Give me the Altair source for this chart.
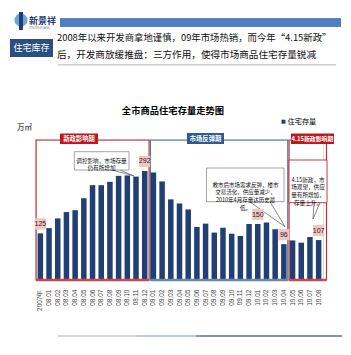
import altair as alt
import pandas as pd

# ---------------- data ----------------
cats = ["2007年",
        "08.01", "08.02", "08.03", "08.04", "08.05", "08.06",
        "08.07", "08.08", "08.09", "08.10", "08.11", "08.12",
        "09.01", "09.02", "09.03", "09.04", "09.05", "09.06",
        "09.07", "09.08", "09.09", "09.10", "09.11", "09.12",
        "10.01", "10.02", "10.03", "10.04", "10.05", "10.06",
        "10.07", "10.08"]
stock = [125, 139, 165, 182, 187, 219, 254, 254, 263, 279, 280, 277, 292,
         288, 264, 216, 205, 189, 142, 151, 127, 140, 124, 118, 150,
         150, 154, 136, 96, 106, 100, 115, 107]
label_cats = ["2007年", "08.12", "10.01", "10.04", "10.08"]
y_ticks = [0, 50, 100, 150, 200, 250, 300, 350]

region_names = ["新政影响期", "市场反弹期", "4.15新政影响期"]
region_start = [0, 13.15, 29.1]
region_end = [13, 28.95, 33.4]
region_colors = ["#c0272d", "#3f6c9e", "#c0272d"]
region_base = ["#c9474d", "#6d88a6", "#c9474d"]

W, H = 287, 140
FONT = "Noto Sans CJK SC"
NUMF = "Liberation Sans Narrow, Liberation Sans, sans-serif"
BAR = "#213f73"

df = pd.DataFrame({"cat": cats, "v": stock})
lab = df[df["cat"].isin(label_cats)].copy()
reg = pd.DataFrame({"name": region_names, "x0": region_start, "x1": region_end,
                    "col": region_colors, "base": region_base})
one = pd.DataFrame({"k": [0]})

xs = alt.Scale(domain=cats, paddingInner=0, paddingOuter=0)
ys = alt.Scale(domain=[0, 375])


def txt(x, y, s, size, color="#000", weight="normal", align="center", font=FONT, lh=None):
    kw = dict(text=s, fontSize=size, color=color, fontWeight=weight, align=align,
              baseline="middle", font=font)
    if lh is not None:
        kw["lineHeight"] = lh
    return alt.Chart(one).mark_text(**kw).encode(x=alt.value(x), y=alt.value(y))


def rect(x1, y1, x2, y2, fill, stroke=None, sw=0, fo=1):
    kw = dict(fill=fill, fillOpacity=fo)
    if stroke:
        kw.update(stroke=stroke, strokeWidth=sw)
    return alt.Chart(one).mark_rect(**kw).encode(
        x=alt.value(x1), x2=alt.value(x2), y=alt.value(y1), y2=alt.value(y2))


def seg(x1, y1, x2, y2, color="#555", sw=0.7):
    return alt.Chart(one).mark_rule(color=color, strokeWidth=sw).encode(
        x=alt.value(x1), x2=alt.value(x2), y=alt.value(y1), y2=alt.value(y2))


def stripe(x1, x2, yc, h, color):
    # long thin bar drawn as a custom symbol path
    w = x2 - x1
    r = (h / 2) / (w / 2)
    path = "M-1,-%.5fL1,-%.5fL1,%.5fL-1,%.5fZ" % (r, r, r, r)
    return alt.Chart(one).mark_point(shape=path, size=w * w, filled=True, color=color,
                                     opacity=1, strokeWidth=0).encode(
        x=alt.value((x1 + x2) / 2), y=alt.value(yc))


layers = []

# ---------------- header ----------------
layers += [
    rect(24, -121.7, 305, -113.3, "#4f7fc0"),
    stripe(24, 305, -117.5, 8.4, "#4f7fc0"),
    alt.Chart(one).mark_point(filled=True, shape="circle", size=170, color="#5b9bd5", opacity=0.9)
    .encode(x=alt.value(-15), y=alt.value(-120)),
    rect(-17, -128, -13, -110, "#1f3f73"),
    txt(-7, -119, "新景祥", 9, "#1f3f73", "bold", "left"),
    txt(-7, -112, "XINJINGXIANG", 3, "#888", "normal", "left", NUMF),
    rect(-26, -101, 17, -83, "#2b4f82"),
    txt(-4.5, -92, "住宅库存", 9, "#ffffff"),
    txt(21, -102, "2008年以来开发商拿地谨慎，09年市场热销，而今年“4.15新政”", 9.4, "#111", "normal", "left"),
    txt(21, -85, "后，开发商放缓推盘：三方作用，使得市场商品住宅存量锐减", 9.6, "#111", "normal", "left"),
    stripe(22, 300, -75.3, 1.4, "#d0d0d0"),
]

# ---------------- titles / legend ----------------
layers += [
    txt(137, -29, "全市商品住宅存量走势图", 9.3, "#000", "bold"),
    txt(-11.5, -12, "万㎡", 7.5, "#000"),
    rect(245.5, -20.3, 249.5, -16.3, BAR),
    txt(251.5, -18, "住宅存量", 7.2, "#000", "normal", "left"),
]

# ---------------- region boxes ----------------
layers.append(
    alt.Chart(reg).mark_rect(fillOpacity=0, strokeWidth=1.1).encode(
        x=alt.X("x0:Q", scale=alt.Scale(domain=[0, 33]), axis=None),
        x2="x1:Q",
        y=alt.value(0), y2=alt.value(H),
        stroke=alt.Stroke("col:N", scale=None, legend=None))
)

# ---------------- bars ----------------
layers.append(
    alt.Chart(df).mark_bar(size=5.5, color=BAR).encode(
        x=alt.X("cat:N", sort=cats, scale=xs, title=None,
                axis=alt.Axis(labelAngle=-90, labelFontSize=6.5, labelPadding=9,
                              labelColor="#444", ticks=False, domain=False,
                              labelOverlap=False, labelFont=NUMF)),
        y=alt.Y("v:Q", scale=ys, title=None,
                axis=alt.Axis(values=y_ticks, grid=False, ticks=False, domain=False,
                              labelFontSize=8, labelPadding=8, labelColor="#222",
                              labelFont=NUMF)))
)

# region base lines
layers.append(
    alt.Chart(reg).mark_rule(strokeWidth=2.4).encode(
        x=alt.X("x0:Q", scale=alt.Scale(domain=[0, 33]), axis=None),
        x2="x1:Q",
        y=alt.value(H),
        color=alt.Color("base:N", scale=None, legend=None))
)

# ---------------- callouts ----------------
layers += [
    seg(76, 30, 98, 36), seg(84, 30, 98, 36),
    rect(38.3, 11.7, 93, 30, "#ffffff", "#666", 0.6),
    txt(65.5, 20.7, ["调控影响，市场存量", "仍有所增加"], 5.6, "#111", lh=7.5),

    seg(214, 62, 249, 86.7), seg(234, 61.7, 249, 86.7),
    rect(170.5, 28, 248, 61.7, "#ffffff", "#666", 0.6),
    txt(209.5, 44.6, ["救市后市场需求反弹，楼市", "交易活化，供应量减少，",
                      "2010年4月存量达历史最", "低。"], 5.5, "#111", lh=7.9),

    seg(278, 62.7, 277, 79), seg(284, 62.7, 277, 79),
    rect(253, 20, 291, 62.7, "#ffffff", "#c0272d", 0.9),
    txt(272, 39.7, ["4.15新政，市", "场观望，供应", "量有所增加，", "存量上升。"], 5.6, "#111", lh=7.8),
]

# ---------------- value labels ----------------
layers += [
    alt.Chart(lab).mark_point(shape="square", filled=True, size=125, color="#f3c6c2",
                              opacity=1, yOffset=-9.5).encode(
        x=alt.X("cat:N", sort=cats, scale=xs, axis=None),
        y=alt.Y("v:Q", scale=ys, axis=None)),
    alt.Chart(lab).mark_text(fontSize=7, color="#222", yOffset=-9.5, baseline="middle",
                             font=NUMF).encode(
        x=alt.X("cat:N", sort=cats, scale=xs, axis=None),
        y=alt.Y("v:Q", scale=ys, axis=None),
        text="v:Q"),
]

# ---------------- region labels ----------------
layers += [
    rect(24, -6.5, 62, 4, "#c0161e"),
    txt(43, -1.2, "新政影响期", 6.3, "#ffffff", "bold"),
    rect(151, -7, 188, 4, "#2d5b8f"),
    txt(169.5, -1.5, "市场反弹期", 6.3, "#ffffff", "bold"),
    rect(255, -6.5, 298, 4, "#c0161e"),
    txt(276.5, -1.2, "4.15新政影响期", 5.9, "#ffffff", "bold"),
]

# ---------------- footer line ----------------
layers += [
    stripe(22, 100, 196, 1.5, "#c8c8c8"),
    stripe(100, 160, 196, 1.5, "#a9bdd2"),
    stripe(160, 306, 196, 1.5, "#4f76a3"),
]

chart = alt.layer(*layers).resolve_scale(x="independent").properties(
    width=W, height=H,
    autosize=alt.AutoSizeParams(type="none"),
    padding={"left": 36, "top": 140, "right": 28, "bottom": 75},
).configure_view(stroke=None).configure(background="#ffffff")

chart.save("out.html", embed_options={"renderer": "svg", "actions": False})
